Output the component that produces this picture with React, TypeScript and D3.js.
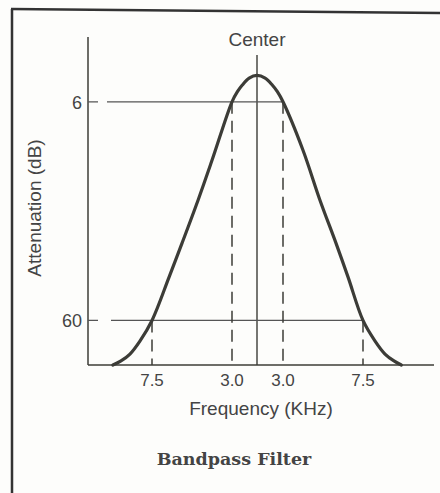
import React from 'react';
import * as d3 from 'd3';

// frequency offset from centre (kHz) vs attenuation (dB)
const curveFreq = [-10.25, -9.68, -9.05, -8.35, -7.5, -6.54, -5.81, -4.91, -4.12, -3.0, -2.35, -1.76, -0.94, 0, 0.94, 1.76, 2.35, 3.0, 4.12, 5.08, 5.98, 6.66, 7.5, 8.35, 9.05, 9.68, 10.2];
const curveAtten = [71, 70.0, 68.3, 65.1, 60, 49.3, 40.9, 30.3, 20.4, 6, 3.5, 1.85, 0.15, -0.5, 0.15, 1.85, 3.5, 6, 17.9, 30.3, 40.9, 49.3, 60, 65.1, 68.3, 70.0, 71];

const refLevels = [6, 60];
const refEdge = [3, 7.5]; // where each level meets the curve
const markerFreqs = [-7.5, -3, 3, 7.5];

const xKnots = [-12, -7.5, -3, 0, 3, 7.5, 12.5];
const xPix = [88, 152, 232, 257, 283, 363, 434];

const ink = '#3c3c37';
const sans = '"Liberation Sans", Arial, sans-serif';

export default function App() {
  const W = 440, H = 493;
  const x = d3.scaleLinear().domain(xKnots).range(xPix);
  const y = d3.scaleLinear().domain([-10, 71]).range([37, 365]);
  const base = y(71);

  const line = d3.line<number>()
    .x((_, i) => x(curveFreq[i]))
    .y(d => y(d))
    .curve(d3.curveCatmullRom.alpha(0.5));

  const fmt = d3.format('.1f');

  return (
    <svg width={W} height={H} style={{ position: 'absolute', left: 0, top: 0, background: '#fdfdfb' }}>
      {/* page frame */}
      <line x1={12} y1={9} x2={12} y2={H} stroke="#333" strokeWidth={2.5} />
      <line x1={11} y1={9} x2={W} y2={13} stroke="#333" strokeWidth={2.5} />

      {/* axes */}
      <line x1={x(-12)} y1={y(-10)} x2={x(-12)} y2={base} stroke={ink} strokeWidth={1.5} />
      <line x1={x(-12)} y1={base} x2={x(12.5)} y2={base} stroke={ink} strokeWidth={1.5} />

      {/* centre line */}
      <line x1={x(0)} y1={55} x2={x(0)} y2={base} stroke={ink} strokeWidth={1.4} />
      <text x={x(0)} y={46} textAnchor="middle" fontFamily={sans} fontSize={19} fill="#444">Center</text>

      {/* reference levels */}
      {refLevels.map((lv, i) => (
        <g key={lv}>
          <line x1={x(-12)} y1={y(lv)} x2={x(refEdge[i])} y2={y(lv)} stroke="#555" strokeWidth={1.2}
            strokeDasharray={`10,${i === 0 ? 9 : 13},1000`} />
          <text x={82} y={y(lv) + 7} textAnchor="end" fontFamily={sans} fontSize={18} fill="#444">{lv}</text>
        </g>
      ))}

      {/* dashed drops */}
      {markerFreqs.map(f => {
        const lv = Math.abs(f) <= 3 ? refLevels[0] : refLevels[1];
        return (
          <g key={f}>
            <line x1={x(f)} y1={y(lv)} x2={x(f)} y2={base} stroke={ink} strokeWidth={1.5} strokeDasharray="12,7" />
            <text x={x(f)} y={386} textAnchor="middle" fontFamily={sans} fontSize={17} fill="#444">{fmt(Math.abs(f))}</text>
          </g>
        );
      })}

      {/* response curve */}
      <path d={line(curveAtten) || ''} fill="none" stroke={ink} strokeWidth={3.2} strokeLinecap="round" strokeLinejoin="round" />

      <text x={261} y={415} textAnchor="middle" fontFamily={sans} fontSize={19} fill="#444">Frequency (KHz)</text>
      <text transform={`translate(41,${208}) rotate(-90)`} textAnchor="middle" fontFamily={sans} fontSize={19} fill="#444">Attenuation (dB)</text>
      <text x={234} y={465} textAnchor="middle" fontFamily='"DejaVu Serif", serif' fontWeight="bold" fontSize={17.5} fill="#444">Bandpass Filter</text>
    </svg>
  );
}
